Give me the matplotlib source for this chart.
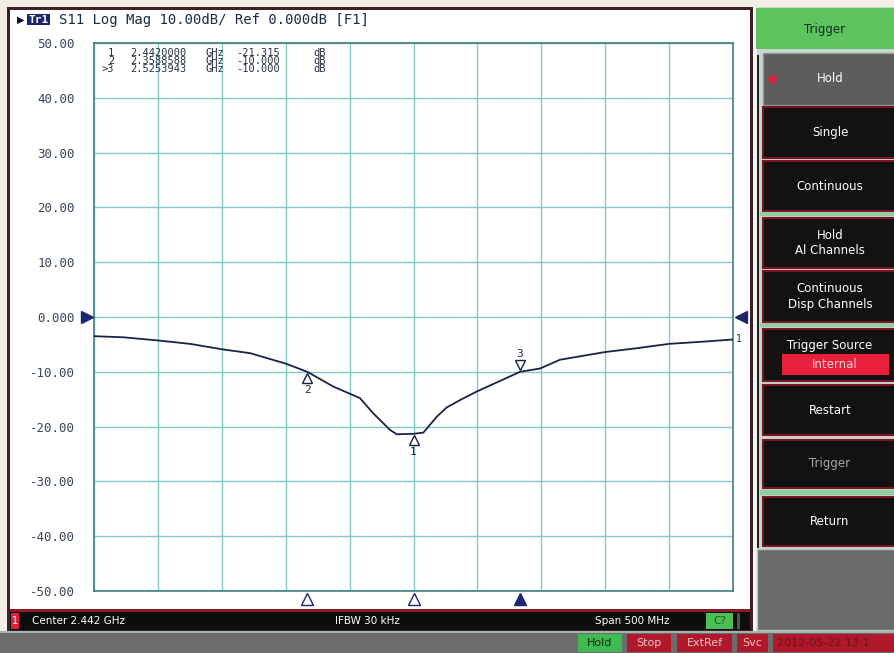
import matplotlib
matplotlib.use("Agg")
import matplotlib.pyplot as plt
from matplotlib.patches import Rectangle

# trace data (S11, dB)
freq_ghz = [2.192, 2.2149, 2.2429, 2.2671, 2.2924, 2.3141, 2.342, 2.3589, 2.3793,
            2.4001, 2.4106, 2.4236, 2.4289, 2.4420, 2.4497, 2.4602, 2.468, 2.4797,
            2.4915, 2.5254, 2.541, 2.5566, 2.5918, 2.6167, 2.642, 2.6688, 2.692]
s11_db = [-3.5, -3.7, -4.3, -4.9, -5.9, -6.6, -8.5, -10.0, -12.7,
          -14.8, -17.6, -20.6, -21.4, -21.315, -21.1, -18.2, -16.5, -15.0,
          -13.6, -10.0, -9.4, -7.8, -6.4, -5.7, -4.9, -4.5, -4.1]

marker_ids = ["1", "2", "3"]
marker_freq = [2.4420000, 2.3588588, 2.5253943]
marker_db = [-21.315, -10.000, -10.000]

center_ghz = 2.442
span_ghz = 0.5
ytick_vals = [50, 40, 30, 20, 10, 0, -10, -20, -30, -40, -50]
ytick_labels = ["50.00", "40.00", "30.00", "20.00", "10.00", "0.000",
                "-10.00", "-20.00", "-30.00", "-40.00", "-50.00"]

W, H = 895, 653
fig = plt.figure(figsize=(W / 100, H / 100), dpi=100)
fig.patch.set_facecolor("#f2ede5")

# background axes in pixel coords for the instrument chrome
bg = fig.add_axes([0, 0, 1, 1])
bg.set_xlim(0, W)
bg.set_ylim(H, 0)
bg.axis("off")


def box(x0, y0, x1, y1, fc, ec="none", lw=0, z=1):
    bg.add_patch(Rectangle((x0, y0), x1 - x0, y1 - y0, facecolor=fc,
                           edgecolor=ec, linewidth=lw, zorder=z))


def txt(x, y, s, **kw):
    kw.setdefault("ha", "center")
    kw.setdefault("va", "center")
    bg.text(x, y, s, zorder=5, **kw)


# screen panel
box(7, 7, 753, 632, "#3b2226", z=1)
box(10, 10, 750, 609, "white", z=2)
box(10, 609, 750, 612, "#8c1a28", z=2)
box(10, 612, 750, 630, "#0d0d0d", z=2)
# bottom status strip
box(0, 632, W, H, "#6c6c6c", z=1)
box(0, 631, W, 633, "#9fb5ad", z=1)

# header line
txt(21, 20, "\u25b6", fontsize=7, color="#10103a", family="DejaVu Sans")
bg.add_patch(Rectangle((27, 14), 23, 11, facecolor="#1d2470", zorder=4))
txt(38.5, 20, "Tr1", fontsize=8, color="white", family="DejaVu Sans Mono",
    weight="bold")
txt(59, 20, "S11 Log Mag 10.00dB/ Ref 0.000dB [F1]", ha="left",
    fontsize=10, color="#1e2a40", family="DejaVu Sans Mono")

# channel status bar
box(11, 613, 19, 629, "#e0203a", z=3)
txt(15, 621, "1", fontsize=7, color="white")
txt(32, 621, "Center 2.442 GHz", ha="left", fontsize=7.5, color="white")
txt(335, 621, "IFBW 30 kHz", ha="left", fontsize=7.5, color="white")
txt(595, 621, "Span 500 MHz", ha="left", fontsize=7.5, color="white")
box(706, 613, 733, 629, "#4cbf55", z=3)
txt(719.5, 621, "C?", fontsize=7.5, color="#1a5a1a")
box(737, 613, 740, 629, "#555555", z=3)

# bottom status buttons
status = [("Hold", 578, 622, "#3fba52", "#0e2e10"),
          ("Stop", 627, 671, "#b0182c", "#f0c0c8"),
          ("ExtRef", 677, 732, "#b0182c", "#f0c0c8"),
          ("Svc", 737, 768, "#b0182c", "#f0c0c8"),
          ("2012-05-22 13:1", 773, 900, "#b0182c", "#701020")]
for lab, x0, x1, fc, tc in status:
    box(x0, 634, x1, 652, fc, z=3)
    if lab.startswith("2012"):
        txt(x0 + 4, 643, lab, ha="left", fontsize=8, color=tc)
    else:
        txt((x0 + x1) / 2, 643, lab, fontsize=8, color=tc)

# right soft-key panel
box(753, 7, W, 631, "#c9d6cf", z=1)
box(753, 7, 757, 631, "#f4f4f4", z=2)
box(757, 55, 759, 548, "#222222", z=2)
box(756, 8, W, 49, "#5cc35f", z=3)
txt(825, 30, "Trigger", fontsize=8.5, color="#10301a")
box(763, 53, W, 105, "#5d5d5d", ec="#8a9a94", lw=1, z=3)
bg.plot([772], [79], "o", ms=5, color="#e0203a", zorder=5)
txt(830, 79, "Hold", fontsize=8.5, color="white")

buttons = [("Single", 107, 158, "white"),
           ("Continuous", 161, 211, "white"),
           ("Hold\nAl Channels", 218, 268, "white"),
           ("Continuous\nDisp Channels", 271, 322, "white"),
           ("", 329, 381, "white"),
           ("Restart", 385, 435, "white"),
           ("Trigger", 440, 488, "#a8a8a8"),
           ("Return", 497, 546, "white")]
for lab, y0, y1, tc in buttons:
    box(763, y0, W, y1, "#121212", ec="#7a1424", lw=1.5, z=3)
    if lab:
        txt(830, (y0 + y1) / 2, lab, fontsize=8.5, color=tc, linespacing=1.25)
for y0, y1 in [(212, 216), (323, 327), (490, 495)]:
    box(760, y0, W, y1, "#8fcf9f", z=3)
txt(830, 345, "Trigger Source", fontsize=8.5, color="white")
box(782, 354, 889, 375, "#e8203c", z=4)
txt(835, 365, "Internal", fontsize=8.5, color="#ffd0d8")
box(757, 549, W, 630, "#6a6a6a", ec="#b0c4bc", lw=1, z=3)

# measurement trace axes
x0p, x1p, y0p, y1p = 94, 733, 43, 591
ax = fig.add_axes([x0p / W, 1 - y1p / H, (x1p - x0p) / W, (y1p - y0p) / H])
ax.set_zorder(3)
ax.set_facecolor("white")
f_lo, f_hi = center_ghz - span_ghz / 2, center_ghz + span_ghz / 2
ax.set_xlim(f_lo, f_hi)
ax.set_ylim(-50, 50)
ax.set_xticks([f_lo + k * span_ghz / 10 for k in range(11)])
ax.set_xticklabels([])
ax.set_yticks(ytick_vals)
ax.set_yticklabels(ytick_labels, family="DejaVu Sans Mono", fontsize=9,
                   color="#3a4658")
ax.tick_params(length=0, pad=14)
ax.grid(True, color="#86c8c8", linewidth=1)
for s in ax.spines.values():
    s.set_color("#3d7f80")
    s.set_linewidth(1.2)

ax.plot(freq_ghz, s11_db, color="#1b2244", linewidth=1.3, zorder=4)

# markers on the trace
for mid, mf, md in zip(marker_ids, marker_freq, marker_db):
    if mid == "3":
        ax.plot([mf], [md + 1.2], marker="v", ms=7, mfc="white", mec="#1b2244",
                mew=1, ls="none", zorder=5)
        ax.text(mf, md + 3.3, mid, ha="center", va="center", fontsize=8,
                color="#1b2244", family="DejaVu Sans Mono", zorder=5)
    else:
        ax.plot([mf], [md - 1.2], marker="^", ms=7, mfc="white", mec="#1b2244",
                mew=1, ls="none", zorder=5)
        ax.text(mf, md - 3.4, mid, ha="center", va="center", fontsize=8,
                color="#1b2244", family="DejaVu Sans Mono", zorder=5)

# marker position indicators below the graticule
xt = ax.get_xaxis_transform()
for mid, mf in zip(marker_ids, marker_freq):
    fill = "#1d2470" if mid == "3" else "white"
    ax.plot([mf], [-0.014], marker="^", ms=8, mfc=fill, mec="#1d2470",
            mew=1, transform=xt, clip_on=False, zorder=6)

# reference level arrows
yt = ax.get_yaxis_transform()
ax.plot([-0.011], [0], marker=">", ms=9, color="#1d2470", transform=yt,
        clip_on=False, zorder=6)
ax.plot([1.012], [0], marker="<", ms=9, color="#1d2470", transform=yt,
        clip_on=False, zorder=6)
ax.text(1.004, s11_db[-1], "1", transform=yt, ha="left", va="center",
        fontsize=7, color="#1b2244", family="DejaVu Sans Mono")

# marker readout table, one text block per column
tags = [(">" if m == "3" else "") + m for m in marker_ids]
columns = [
    (0.032, "right", tags),
    (0.056, "left", [f"{f:.7f}" for f in marker_freq]),
    (0.174, "left", ["GHz"] * len(marker_ids)),
    (0.222, "left", [f"{d:.3f}" for d in marker_db]),
    (0.343, "left", ["dB"] * len(marker_ids)),
]
for xc, ha, vals in columns:
    ax.text(xc, 0.967, "\n".join(vals), transform=ax.transAxes, ha=ha,
            va="center", fontsize=7.5, linespacing=0.78, color="#283040",
            family="DejaVu Sans Mono", multialignment=ha)

fig.savefig("out.png", dpi=100)
